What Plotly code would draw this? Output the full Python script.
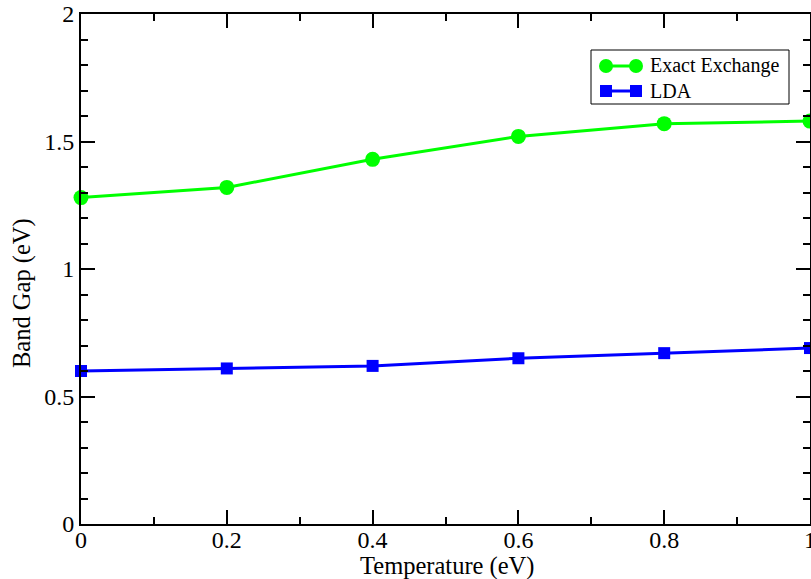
import plotly.graph_objects as go

temperature = [0.0, 0.2, 0.4, 0.6, 0.8, 1.0]
exact_exchange = [1.28, 1.32, 1.43, 1.52, 1.57, 1.58]
lda = [0.60, 0.61, 0.62, 0.65, 0.67, 0.69]
series_names = ["Exact Exchange", "LDA"]
x_title = "Temperature (eV)"
y_title = "Band Gap (eV)"

GREEN = "#00ff00"
BLUE = "#0000ff"
FONT = "Liberation Serif"

fig = go.Figure()
fig.add_trace(go.Scatter(
    x=temperature, y=exact_exchange, mode="lines+markers", name=series_names[0],
    line=dict(color=GREEN, width=3),
    marker=dict(symbol="circle", size=15, color=GREEN),
    cliponaxis=False, showlegend=False,
))
fig.add_trace(go.Scatter(
    x=temperature, y=lda, mode="lines+markers", name=series_names[1],
    line=dict(color=BLUE, width=3),
    marker=dict(symbol="square", size=12, color=BLUE),
    cliponaxis=False, showlegend=False,
))

axis_common = dict(
    showline=True, linecolor="black", linewidth=2, mirror="ticks",
    ticks="inside", ticklen=14, tickwidth=1.5, tickcolor="black",
    showgrid=False, zeroline=False, ticklabeloverflow="allow", automargin=False,
    tickfont=dict(family=FONT, size=24, color="black"),
)
fig.update_xaxes(
    range=[0, 1], tickvals=[0, 0.2, 0.4, 0.6, 0.8, 1.0],
    ticktext=["0", "0.2", "0.4", "0.6", "0.8", "1"],
    minor=dict(dtick=0.1, ticks="inside", ticklen=7, tickwidth=1.5, tickcolor="black"),
    ticklabelstandoff=-7,
    **axis_common,
)
fig.update_yaxes(
    range=[0, 2], tickvals=[0, 0.5, 1, 1.5, 2],
    ticktext=["0", "0.5", "1", "1.5", "2"],
    minor=dict(dtick=0.1, ticks="inside", ticklen=7, tickwidth=1.5, tickcolor="black"),
    **axis_common,
)

W, H = 811, 579
ml, mr, mt, mb = 81, 1, 14, 55
pw, ph = W - ml - mr, H - mt - mb


def px(x):
    return (x - ml) / pw


def py(y):
    return 1 - (y - mt) / ph


shapes = []
annotations = []

# Axis titles
annotations.append(dict(xref="paper", yref="paper", x=px(447), y=py(566),
                        xanchor="center", yanchor="middle", showarrow=False,
                        text=x_title, font=dict(family=FONT, size=24.5, color="black")))
annotations.append(dict(xref="paper", yref="paper", x=px(22), y=py(293),
                        xanchor="center", yanchor="middle", showarrow=False, textangle=-90,
                        text=y_title, font=dict(family=FONT, size=24.5, color="black")))

# Legend drawn as a framed box with line-and-two-markers samples
lx0, lx1, ly0, ly1 = 591, 789, 50, 104
shapes.append(dict(type="rect", xref="paper", yref="paper",
                   x0=px(lx0), x1=px(lx1), y0=py(ly1), y1=py(ly0),
                   line=dict(color="black", width=1), fillcolor="white", layer="above"))
rows = [(66, GREEN, "circle"), (91, BLUE, "square")]
for (yc, col, sym), name in zip(rows, series_names):
    shapes.append(dict(type="line", xref="paper", yref="paper",
                       x0=px(606), x1=px(636), y0=py(yc), y1=py(yc),
                       line=dict(color=col, width=3), layer="above"))
    for xc in (606, 636):
        r = 7 if sym == "circle" else 6
        shapes.append(dict(type="circle" if sym == "circle" else "rect",
                           xref="paper", yref="paper",
                           x0=px(xc - r), x1=px(xc + r), y0=py(yc + r), y1=py(yc - r),
                           line=dict(color=col, width=0), fillcolor=col, layer="above"))
    annotations.append(dict(xref="paper", yref="paper", x=px(648), y=py(yc),
                            xanchor="left", yanchor="middle", showarrow=False,
                            text=name, font=dict(family=FONT, size=20, color="black")))

fig.update_layout(
    width=W, height=H,
    margin=dict(l=ml, r=mr, t=mt, b=mb),
    plot_bgcolor="white", paper_bgcolor="white",
    showlegend=False,
    shapes=shapes, annotations=annotations,
)

fig.write_html("out.html")
